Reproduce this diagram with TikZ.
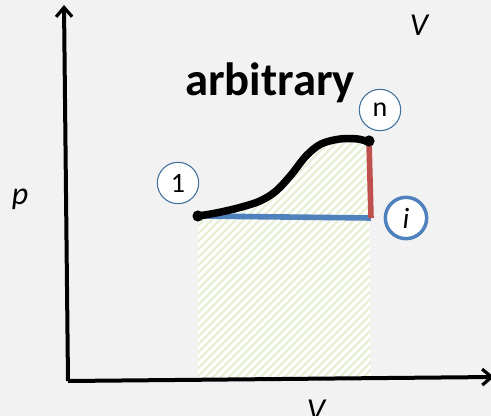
\documentclass[tikz,border=0pt]{standalone}
\usepackage{fontspec}
\setmainfont{Carlito}
\usepackage{tikz}
\usetikzlibrary{arrows.meta,patterns.meta}

\definecolor{bgc}{RGB}{242,242,242}
\definecolor{isoB}{RGB}{79,129,189}
\definecolor{isoR}{RGB}{192,80,77}
\definecolor{ringc}{RGB}{65,113,156}
\definecolor{hatchc}{RGB}{230,238,212}

% the arbitrary process 1 -> n
\newcommand{\arbpath}{plot[smooth,tension=0.55] coordinates
  {(198,216) (216,213) (238,208) (260,201) (276,191) (291,175)
   (306,156) (321,144) (340,139) (358,139) (368,142)}}

\begin{document}
\begin{tikzpicture}[
  x=0.75pt, y=-0.75pt,
  axis/.style  = {line width=3pt, black, -{Straight Barb[length=7pt,width=12pt,line width=2.4pt]}},
  proc/.style  = {line width=5.6pt, black, line cap=round},
  isob/.style  = {line width=4.2pt, isoB},
  isochor/.style = {line width=4.2pt, isoR},
  state/.style = {circle, draw=ringc, fill=white, line width=0.8pt,
                  minimum size=31pt, inner sep=0pt, font=\fontsize{21}{21}\selectfont},
  statei/.style = {state, draw=isoB, line width=2.6pt, minimum size=31pt,
                  font=\fontsize{22}{22}\selectfont\itshape},
  lbl/.style   = {font=\fontsize{24}{24}\selectfont\itshape, inner sep=0pt},
]
\useasboundingbox (0,0) rectangle (491,416);
\fill[bgc] (0,0) rectangle (491,416);

% =========================== states =====================================
\coordinate (st1) at (198,216);
\coordinate (stn) at (369,141);
\coordinate (sti) at (371,218);
\coordinate (o)   at (68,381);
\coordinate (ytop) at (64,5);
\coordinate (xend) at (494,377);

% =========================== work area ==================================
\path[fill=white, postaction={pattern={Lines[angle=45,distance=4.2pt,line width=1.6pt]},
      pattern color=hatchc}]
  \arbpath -- (sti |- o) -- (st1 |- o) -- cycle;

% =========================== processes ==================================
\draw[isob]    (st1) -- (sti);
\draw[isochor] (stn) -- (sti);
\draw[proc] \arbpath;
\fill (st1) circle (4.2pt);
\fill (stn) circle (4.2pt);

% =========================== axes =======================================
\draw[axis] (o) -- (ytop);
\draw[axis] (o) -- (xend);

% =========================== labels =====================================
\node[state]  (c1) at (178,183) {1};
\node[state]  (cn) at (380,110) {n};
\node[statei] (ci) at (406,218) {i};

\node[font=\fontsize{35}{35}\selectfont\bfseries, inner sep=0pt] (ttl) at (270,83) {arbitrary};
\node[lbl] (lp)  at (20,199) {p};
\node[lbl] (lvt) at (419,25) {V};
\node[lbl] (lvb) at (316,410) {V};
\end{tikzpicture}
\end{document}
